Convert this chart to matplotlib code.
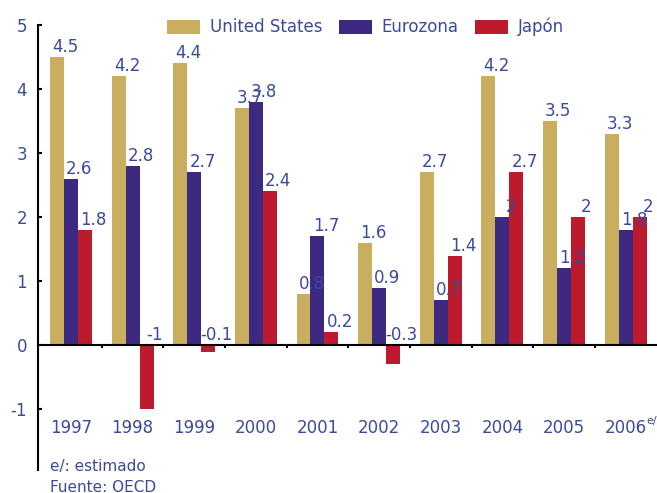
import numpy as np
import matplotlib
matplotlib.use('Agg')
import matplotlib.pyplot as plt

# Datos del gráfico
anios = ['1997', '1998', '1999', '2000', '2001', '2002', '2003', '2004', '2005', '2006']
usa = [4.5, 4.2, 4.4, 3.7, 0.8, 1.6, 2.7, 4.2, 3.5, 3.3]
eurozona = [2.6, 2.8, 2.7, 3.8, 1.7, 0.9, 0.7, 2, 1.2, 1.8]
japon = [1.8, -1, -0.1, 2.4, 0.2, -0.3, 1.4, 2.7, 2, 2]
series = ['United States', 'Eurozona', 'Japón']

# Estilo
COLORES = ['#C8AE5E', '#3D2A80', '#BE1A2E']
AZUL_TXT = '#3B4A9B'
ANCHO = 0.227
FS = 12

fig = plt.figure(figsize=(6.57, 4.93), dpi=100)
ax = fig.add_axes([38 / 657, 1 - 470 / 493, 1 - 38 / 657, (470 - 25) / 493])

x = np.arange(len(anios))
for k, (datos, color, nombre) in enumerate(zip([usa, eurozona, japon], COLORES, series)):
    pos = x + (k - 1) * ANCHO
    ax.bar(pos, datos, ANCHO, color=color, label=nombre, linewidth=0)
    for xp, v in zip(pos, datos):
        etiqueta = f'{v:g}'
        ax.annotate(etiqueta, (xp, max(v, 0)), xytext=(6, 3.6), textcoords='offset points',
                    ha='center', va='baseline', color=AZUL_TXT, fontsize=FS)

ax.set_xlim(-0.536, 9.51)
ax.set_ylim(-1.95, 5)

# Ejes
for s in ['top', 'right']:
    ax.spines[s].set_visible(False)
ax.spines['left'].set_linewidth(1.5)
ax.spines['left'].set_bounds(-1.95, 5)
ax.spines['bottom'].set_position(('data', 0))
ax.spines['bottom'].set_linewidth(1.5)

ax.set_yticks([5, 4, 3, 2, 1, 0, -1])
ax.set_yticklabels(['5', '4', '3', '2', '1', '0', '-1'])
ax.tick_params(axis='y', direction='in', length=3, width=1.5, labelsize=FS,
               labelcolor=AZUL_TXT, pad=8)
ax.set_xticks(x[:-1] + 0.5)
ax.set_xticklabels([])
ax.tick_params(axis='x', direction='out', length=2, width=1.5)

# Etiquetas de años
for xi, a in zip(x, anios):
    ax.text(xi, -1.3, a, ha='center', va='center', color=AZUL_TXT, fontsize=FS)
ax.text(x[-1] + 0.33, -1.18, 'e/', ha='left', va='center', color=AZUL_TXT, fontsize=8)

# Leyenda
fig.legend(loc='center', bbox_to_anchor=(0.556, 0.945), ncol=3, frameon=False,
           fontsize=FS, labelcolor=AZUL_TXT, handlelength=2.0, handleheight=0.9,
           handletextpad=0.55, columnspacing=1.0)

# Notas
fig.text(50 / 657, 1 - 466 / 493, 'e/: estimado', color=AZUL_TXT, fontsize=FS - 1, va='center')
fig.text(50 / 657, 1 - 488 / 493, 'Fuente: OECD', color=AZUL_TXT, fontsize=FS - 1, va='center')

fig.savefig('out.png', dpi=100)
